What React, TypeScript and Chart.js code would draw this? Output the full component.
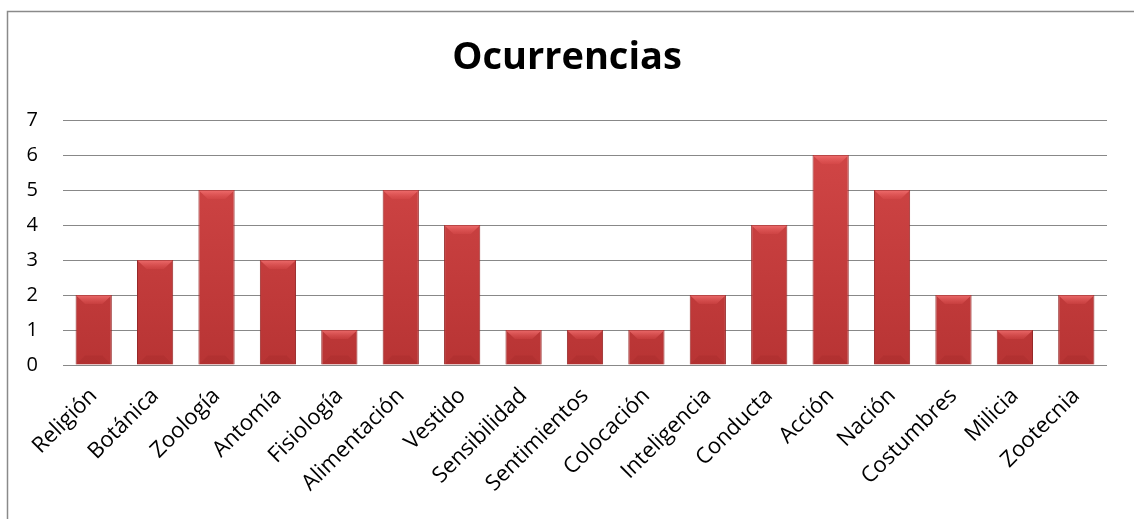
import React, { useEffect, useRef } from "react";
import { Chart, registerables } from "chart.js";

Chart.register(...registerables);

const categories = [
  "Religión", "Botánica", "Zoología", "Antomía", "Fisiología", "Alimentación",
  "Vestido", "Sensibilidad", "Sentimientos", "Colocación", "Inteligencia",
  "Conducta", "Acción", "Nación", "Costumbres", "Milicia", "Zootecnia",
];
const ocurrencias = [2, 3, 5, 3, 1, 5, 4, 1, 1, 1, 2, 4, 6, 5, 2, 1, 2];
const chartTitle = "Ocurrencias";
const yMin = 0;
const yMax = 7;

const W = 1134;
const H = 519;
const FONT = "'Open Sans', 'DejaVu Sans', sans-serif";

const borderPlugin = {
  id: "frameBorder",
  beforeDraw(chart: any) {
    const { ctx } = chart;
    ctx.save();
    ctx.fillStyle = "#ffffff";
    ctx.fillRect(0, 0, chart.width, chart.height);
    ctx.strokeStyle = "#8a8a8a";
    ctx.lineWidth = 1.5;
    ctx.strokeRect(7.5, 11.5, chart.width + 20, chart.height + 20);
    ctx.restore();
  },
};

const bevelPlugin = {
  id: "bevel",
  afterDatasetsDraw(chart: any) {
    const { ctx } = chart;
    const meta = chart.getDatasetMeta(0);
    ctx.save();
    meta.data.forEach((bar: any) => {
      const { x, y, base, width } = bar.getProps(["x", "y", "base", "width"], true);
      const l = x - width / 2 + 0.5;
      const r = x + width / 2 - 0.5;
      const b = Math.min(9, (base - y) / 2);
      const g = ctx.createLinearGradient(0, y, 0, y + b);
      g.addColorStop(0, "rgba(255,130,130,0.7)");
      g.addColorStop(1, "rgba(235,90,90,0.2)");
      ctx.fillStyle = g;
      ctx.beginPath();
      ctx.moveTo(l, y + 0.5);
      ctx.lineTo(r, y + 0.5);
      ctx.lineTo(r - b, y + b);
      ctx.lineTo(l + b, y + b);
      ctx.closePath();
      ctx.fill();
      ctx.fillStyle = "rgba(120,20,20,0.1)";
      ctx.beginPath();
      ctx.moveTo(l, base);
      ctx.lineTo(r, base);
      ctx.lineTo(r - b, base - b);
      ctx.lineTo(l + b, base - b);
      ctx.closePath();
      ctx.fill();
    });
    ctx.restore();
  },
};

export default function App() {
  const ref = useRef<HTMLCanvasElement | null>(null);

  useEffect(() => {
    if (!ref.current) return;
    const chart = new Chart(ref.current, {
      type: "bar",
      data: {
        labels: categories,
        datasets: [
          {
            label: chartTitle,
            data: ocurrencias,
            backgroundColor: (c: any) => {
              const ch = c.chart;
              const area = ch.chartArea;
              if (!area) return "#c83c3c";
              const g = ch.ctx.createLinearGradient(0, area.top, 0, area.bottom);
              g.addColorStop(0, "#d44848");
              g.addColorStop(1, "#b83434");
              return g;
            },
            borderColor: "#962828",
            borderWidth: 1,
            categoryPercentage: 1,
            barPercentage: 0.59,
          },
        ],
      },
      options: {
        responsive: false,
        animation: false,
        devicePixelRatio: 1,
        layout: { padding: { left: 27, right: 27, top: 0, bottom: 0 } },
        plugins: {
          legend: { display: false },
          tooltip: { enabled: false },
          title: {
            display: true,
            text: chartTitle,
            color: "#000000",
            font: { family: FONT, size: 38, weight: "bold" },
            padding: { top: 35, bottom: 39.4 },
          },
        },
        scales: {
          x: {
            grid: { display: false, drawTicks: false },
            border: { display: false },
            ticks: {
              color: "#000000",
              font: { family: FONT, size: 22 },
              maxRotation: 45,
              minRotation: 45,
              autoSkip: false,
              padding: 18,
            },
            afterFit: (s: any) => {
              s.height = 154;
            },
          },
          y: {
            min: yMin,
            max: yMax,
            grid: { color: "#888888", lineWidth: 1, drawTicks: false },
            border: { display: false },
            ticks: {
              stepSize: 1,
              color: "#000000",
              font: { family: FONT, size: 20 },
              padding: 25,
            },
            afterFit: (s: any) => {
              s.width = 36;
            },
          },
        },
      },
      plugins: [borderPlugin, bevelPlugin],
    });
    return () => chart.destroy();
  }, []);

  return (
    <div style={{ position: "fixed", left: 0, top: 0, width: W, height: H, overflow: "hidden" }}>
      <canvas ref={ref} width={W} height={H} />
    </div>
  );
}
